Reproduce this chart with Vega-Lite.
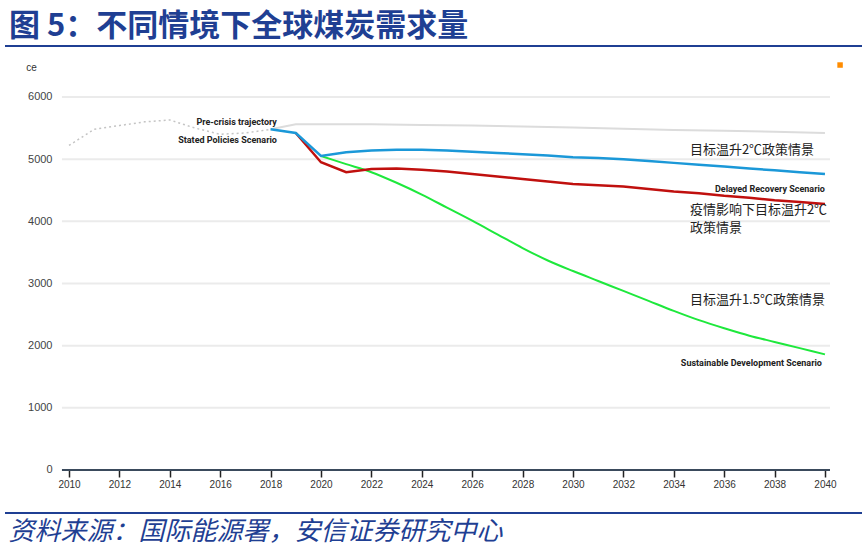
{
  "$schema": "https://vega.github.io/schema/vega-lite/v6.json",
  "autosize": "none",
  "width": 857,
  "height": 467,
  "padding": {"left": 5, "top": 46, "right": 4, "bottom": 43},
  "background": "white",
  "config": {"view": {"stroke": null}},
  "title": {
    "text": "图 5：不同情境下全球煤炭需求量",
    "anchor": "start",
    "frame": "group",
    "offset": 11,
    "baseline": "alphabetic",
    "dx": 4,
    "dy": 33,
    "font": "Noto Sans CJK SC",
    "fontSize": 31,
    "fontWeight": "bold",
    "color": "#1f3f93"
  },
  "datasets": {
    "series": [
      {"year": 2010, "value": 5220, "s": "hist"},
      {"year": 2011, "value": 5480, "s": "hist"},
      {"year": 2012, "value": 5540, "s": "hist"},
      {"year": 2013, "value": 5600, "s": "hist"},
      {"year": 2014, "value": 5630, "s": "hist"},
      {"year": 2015, "value": 5500, "s": "hist"},
      {"year": 2016, "value": 5400, "s": "hist"},
      {"year": 2017, "value": 5420, "s": "hist"},
      {"year": 2018, "value": 5480, "s": "hist"},
      {"year": 2018, "value": 5480, "s": "pre"},
      {"year": 2019, "value": 5560, "s": "pre"},
      {"year": 2020, "value": 5560, "s": "pre"},
      {"year": 2022, "value": 5560, "s": "pre"},
      {"year": 2024, "value": 5550, "s": "pre"},
      {"year": 2026, "value": 5540, "s": "pre"},
      {"year": 2028, "value": 5525, "s": "pre"},
      {"year": 2030, "value": 5510, "s": "pre"},
      {"year": 2032, "value": 5490, "s": "pre"},
      {"year": 2034, "value": 5470, "s": "pre"},
      {"year": 2036, "value": 5455, "s": "pre"},
      {"year": 2038, "value": 5440, "s": "pre"},
      {"year": 2040, "value": 5420, "s": "pre"},
      {"year": 2020, "value": 5050, "s": "sds"},
      {"year": 2021, "value": 4920, "s": "sds"},
      {"year": 2022, "value": 4790, "s": "sds"},
      {"year": 2023, "value": 4620, "s": "sds"},
      {"year": 2024, "value": 4430, "s": "sds"},
      {"year": 2025, "value": 4220, "s": "sds"},
      {"year": 2026, "value": 4010, "s": "sds"},
      {"year": 2027, "value": 3790, "s": "sds"},
      {"year": 2028, "value": 3570, "s": "sds"},
      {"year": 2029, "value": 3370, "s": "sds"},
      {"year": 2030, "value": 3200, "s": "sds"},
      {"year": 2031, "value": 3040, "s": "sds"},
      {"year": 2032, "value": 2880, "s": "sds"},
      {"year": 2033, "value": 2720, "s": "sds"},
      {"year": 2034, "value": 2560, "s": "sds"},
      {"year": 2035, "value": 2410, "s": "sds"},
      {"year": 2036, "value": 2280, "s": "sds"},
      {"year": 2037, "value": 2160, "s": "sds"},
      {"year": 2038, "value": 2060, "s": "sds"},
      {"year": 2039, "value": 1960, "s": "sds"},
      {"year": 2040, "value": 1860, "s": "sds"},
      {"year": 2019, "value": 5420, "s": "drs"},
      {"year": 2020, "value": 4950, "s": "drs"},
      {"year": 2021, "value": 4790, "s": "drs"},
      {"year": 2022, "value": 4840, "s": "drs"},
      {"year": 2023, "value": 4850, "s": "drs"},
      {"year": 2024, "value": 4830, "s": "drs"},
      {"year": 2025, "value": 4800, "s": "drs"},
      {"year": 2026, "value": 4760, "s": "drs"},
      {"year": 2027, "value": 4720, "s": "drs"},
      {"year": 2028, "value": 4680, "s": "drs"},
      {"year": 2029, "value": 4640, "s": "drs"},
      {"year": 2030, "value": 4600, "s": "drs"},
      {"year": 2031, "value": 4580, "s": "drs"},
      {"year": 2032, "value": 4560, "s": "drs"},
      {"year": 2033, "value": 4520, "s": "drs"},
      {"year": 2034, "value": 4480, "s": "drs"},
      {"year": 2035, "value": 4450, "s": "drs"},
      {"year": 2036, "value": 4410, "s": "drs"},
      {"year": 2037, "value": 4380, "s": "drs"},
      {"year": 2038, "value": 4340, "s": "drs"},
      {"year": 2039, "value": 4310, "s": "drs"},
      {"year": 2040, "value": 4280, "s": "drs"},
      {"year": 2018, "value": 5480, "s": "steps"},
      {"year": 2019, "value": 5420, "s": "steps"},
      {"year": 2020, "value": 5050, "s": "steps"},
      {"year": 2021, "value": 5110, "s": "steps"},
      {"year": 2022, "value": 5140, "s": "steps"},
      {"year": 2023, "value": 5150, "s": "steps"},
      {"year": 2024, "value": 5150, "s": "steps"},
      {"year": 2025, "value": 5140, "s": "steps"},
      {"year": 2026, "value": 5120, "s": "steps"},
      {"year": 2027, "value": 5100, "s": "steps"},
      {"year": 2028, "value": 5080, "s": "steps"},
      {"year": 2029, "value": 5060, "s": "steps"},
      {"year": 2030, "value": 5030, "s": "steps"},
      {"year": 2031, "value": 5020, "s": "steps"},
      {"year": 2032, "value": 5000, "s": "steps"},
      {"year": 2033, "value": 4970, "s": "steps"},
      {"year": 2034, "value": 4940, "s": "steps"},
      {"year": 2035, "value": 4910, "s": "steps"},
      {"year": 2036, "value": 4880, "s": "steps"},
      {"year": 2037, "value": 4850, "s": "steps"},
      {"year": 2038, "value": 4820, "s": "steps"},
      {"year": 2039, "value": 4790, "s": "steps"},
      {"year": 2040, "value": 4760, "s": "steps"}
    ],
    "grid": [
      {"g": 1000}, {"g": 2000}, {"g": 3000}, {"g": 4000}, {"g": 5000}, {"g": 6000}
    ],
    "en": [
      {"t": "Pre-crisis trajectory", "year": 2018.25, "value": 5600},
      {"t": "Stated Policies Scenario", "year": 2018.25, "value": 5310},
      {"t": "Delayed Recovery Scenario", "year": 2040.0, "value": 4520},
      {"t": "Sustainable Development Scenario", "year": 2039.88, "value": 1721}
    ],
    "zh": [
      {"t": "目标温升2℃政策情景", "year": 2034.64, "value": 5147},
      {"t": "疫情影响下目标温升2℃", "year": 2034.64, "value": 4180},
      {"t": "政策情景", "year": 2034.64, "value": 3900},
      {"t": "目标温升1.5℃政策情景", "year": 2034.64, "value": 2734}
    ]
  },
  "layer": [
    {
      "data": {"name": "grid"},
      "mark": {"type": "rule", "color": "#ebebeb", "strokeWidth": 2},
      "encoding": {
        "y": {
          "field": "g", "type": "quantitative",
          "scale": {"domain": [-692, 6820], "nice": false, "zero": false},
          "axis": {
            "values": [0, 1000, 2000, 3000, 4000, 5000, 6000],
            "format": "d",
            "offset": -57,
            "domain": false, "ticks": false, "grid": false,
            "labelPadding": 10, "labelFontSize": 11, "labelColor": "#444",
            "labelFont": "Liberation Sans",
            "title": "ce", "titleAngle": 0, "titleX": -31, "titleY": 21,
            "titleAlign": "center", "titleBaseline": "middle",
            "titleFontWeight": "normal", "titleFontSize": 10, "titleColor": "#333",
            "titleFont": "Liberation Sans"
          }
        },
        "x": {
          "datum": 2009.72, "type": "quantitative",
          "scale": {"domain": [2007.46, 2041.47], "nice": false, "zero": false},
          "axis": {
            "values": [2010, 2012, 2014, 2016, 2018, 2020, 2022, 2024, 2026, 2028, 2030, 2032, 2034, 2036, 2038, 2040],
            "format": "d",
            "offset": -43,
            "domain": false, "grid": false,
            "tickColor": "#222", "tickSize": 7, "tickWidth": 1.5,
            "labelFontSize": 10, "labelColor": "#333", "labelPadding": 2,
            "labelFont": "Liberation Sans", "labelFlush": false,
            "title": "资料来源：国际能源署，安信证券研究中心",
            "titleX": 3, "titleY": 61, "titleAlign": "left", "titleBaseline": "middle",
            "titleFont": "Noto Sans CJK SC", "titleFontSize": 26, "titleFontStyle": "oblique",
            "titleFontWeight": "normal", "titleColor": "#1f3f93"
          }
        },
        "x2": {"datum": 2040.2}
      }
    },
    {
      "data": {"values": [{"z": 0}]},
      "mark": {"type": "rule", "color": "#3a4a5c", "strokeWidth": 2},
      "encoding": {
        "y": {"field": "z", "type": "quantitative"},
        "x": {"datum": 2009.72, "type": "quantitative"},
        "x2": {"datum": 2040.2}
      }
    },
    {
      "data": {"values": [{"z": 0}]},
      "mark": {"type": "rule", "color": "#1f3f93", "strokeWidth": 2},
      "encoding": {"y": {"datum": 6820, "type": "quantitative"}}
    },
    {
      "data": {"values": [{"z": 0}]},
      "mark": {"type": "rule", "color": "#1f3f93", "strokeWidth": 2},
      "encoding": {"y": {"datum": -692, "type": "quantitative"}}
    },
    {
      "data": {"values": [{"z": 0}]},
      "mark": {"type": "point", "shape": "square", "filled": true, "size": 30, "color": "#ff8c00", "opacity": 1},
      "encoding": {
        "x": {"datum": 2040.6, "type": "quantitative"},
        "y": {"datum": 6514, "type": "quantitative"}
      }
    },
    {
      "data": {"name": "series"},
      "transform": [{"filter": "datum.s === 'hist'"}],
      "mark": {"type": "line", "color": "#c4c4c4", "strokeWidth": 1.5, "strokeDash": [2, 3]},
      "encoding": {
        "x": {"field": "year", "type": "quantitative"},
        "y": {"field": "value", "type": "quantitative"}
      }
    },
    {
      "data": {"name": "series"},
      "transform": [{"filter": "datum.s === 'pre'"}],
      "mark": {"type": "line", "color": "#dcdcdc", "strokeWidth": 2},
      "encoding": {
        "x": {"field": "year", "type": "quantitative"},
        "y": {"field": "value", "type": "quantitative"}
      }
    },
    {
      "data": {"name": "series"},
      "transform": [{"filter": "datum.s === 'sds'"}],
      "mark": {"type": "line", "color": "#1ee83c", "strokeWidth": 2, "interpolate": "monotone"},
      "encoding": {
        "x": {"field": "year", "type": "quantitative"},
        "y": {"field": "value", "type": "quantitative"}
      }
    },
    {
      "data": {"name": "series"},
      "transform": [{"filter": "datum.s === 'drs'"}],
      "mark": {"type": "line", "color": "#c0100e", "strokeWidth": 2.5},
      "encoding": {
        "x": {"field": "year", "type": "quantitative"},
        "y": {"field": "value", "type": "quantitative"}
      }
    },
    {
      "data": {"name": "series"},
      "transform": [{"filter": "datum.s === 'steps'"}],
      "mark": {"type": "line", "color": "#1b98d8", "strokeWidth": 2.5},
      "encoding": {
        "x": {"field": "year", "type": "quantitative"},
        "y": {"field": "value", "type": "quantitative"}
      }
    },
    {
      "data": {"name": "en"},
      "mark": {"type": "text", "align": "right", "baseline": "middle", "font": "Liberation Sans Narrow, Roboto, sans-serif", "fontWeight": "bold", "fontSize": 9, "color": "#222"},
      "encoding": {
        "x": {"field": "year", "type": "quantitative"},
        "y": {"field": "value", "type": "quantitative"},
        "text": {"field": "t", "type": "nominal"}
      }
    },
    {
      "data": {"name": "zh"},
      "mark": {"type": "text", "align": "left", "baseline": "middle", "font": "Noto Sans CJK SC", "fontSize": 13, "color": "#222"},
      "encoding": {
        "x": {"field": "year", "type": "quantitative"},
        "y": {"field": "value", "type": "quantitative"},
        "text": {"field": "t", "type": "nominal"}
      }
    }
  ]
}
